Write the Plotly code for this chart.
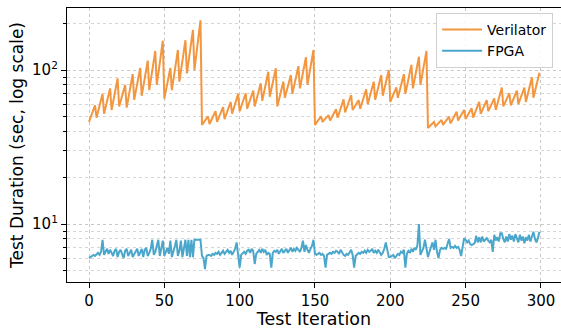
import plotly.graph_objects as go

iterations = list(range(300))

verilator = [
    # 0-74
    46, 49, 52, 55.5, 59,   49, 53.5, 58.5, 64, 70,   52, 57, 63, 69, 76,
    55, 62, 69.5, 78, 88,   58, 63, 68, 74, 80,       57, 64.5, 73, 83, 94,
    64, 72, 81, 91.5, 103,  68, 77.5, 88.5, 100.5, 115,  74, 85.7, 99, 115, 133,
    80, 94.5, 111, 131, 155,  65, 73, 82, 92, 103,    74, 86, 100, 116, 135,
    84, 98, 114.5, 133.5, 156,  95, 112, 131.5, 155, 182,  100, 120, 145, 174, 210,
    # 75-149
    44, 45.5, 47, 48.5, 50,  44.6, 46.8, 49, 51.5, 54,  46, 48.6, 51.4, 54.4, 57.5,
    48, 51, 54.5, 58, 62,    52, 56, 60.3, 65, 70,      54, 57.7, 61.7, 66, 70.6,
    56, 60, 64, 68.6, 73.4,  58, 63.2, 69, 75.2, 82,    63, 70.3, 78.4, 87.4, 97.5,
    67, 74.5, 83, 92, 102.6, 58, 63.6, 69.8, 76.6, 84,  66, 71.9, 78.3, 85.2, 92.8,
    70, 77.6, 86.1, 95.5, 106,  76, 85.4, 95.9, 107.7, 121,  80, 91.2, 103.9, 118.5, 135,
    # 150-224
    44, 45.5, 47, 48.5, 50,  46, 47.2, 48.4, 49.7, 51,  47, 49, 51.1, 53.3, 55.6,
    49, 52.5, 56.2, 60.2, 64.5,  53, 56.6, 60.4, 64.4, 68.8,  55, 57.1, 59.2, 61.5, 63.8,
    56, 60.2, 64.8, 69.7, 75,  60, 65.3, 71, 77.2, 84,  64, 70.2, 77.1, 84.5, 92.8,
    68, 74.9, 82.5, 90.8, 100,  62, 65.5, 69.1, 72.9, 77,  66, 72.1, 78.7, 86.1, 94,
    70, 78, 86.9, 97, 108,  76, 85.6, 96.3, 108.4, 122,  80, 90.9, 103.1, 117.1, 133,
    # 225-299
    42, 43, 44, 45, 46,  43, 44.1, 45.1, 46.3, 47.4,  44, 45.4, 46.8, 48.3, 49.8,
    45, 47, 49.1, 51.3, 53.6,  47, 48.9, 50.8, 52.9, 55,  48, 50, 52, 54.2, 56.4,
    49, 51.9, 55.1, 58.4, 62,  52, 54.7, 57.6, 60.6, 63.8,  54, 56.6, 59.5, 62.4, 65.5,
    55, 59.8, 65.1, 70.8, 77,  58, 60.9, 64, 67.2, 70.6,  59, 62.3, 65.8, 69.5, 73.4,
    60, 63.8, 68, 72.3, 77,  62, 68, 74.5, 81.7, 89.6,  66, 72.5, 79.6, 87.4, 96,
]

fpga = [
    6.0, 6.1, 6.2, 6.3, 6.2, 6.4, 6.5, 6.3, 6.6, 7.9,
    6.3, 6.6, 6.9, 6.4, 6.8, 6.5, 6.2, 6.7, 6.9, 6.1,
    6.6, 6.8, 6.3, 6.0, 6.7, 6.9, 6.2, 6.5, 6.8, 6.1,
    6.4, 6.7, 6.9, 6.2, 6.6, 6.9, 6.1, 6.8, 7.0, 6.2,
    6.5, 6.9, 7.9, 6.3, 6.6, 7.2, 7.9, 6.2, 7.0, 7.8,
    6.2, 6.6, 7.0, 6.4, 7.8, 6.1, 6.8, 7.2, 7.9, 6.2,
    6.7, 7.8, 6.1, 7.0, 7.9, 6.2, 7.9, 6.1, 7.9, 6.1,
    7.9, 7.9, 7.9, 7.9, 7.9, 6.2, 6.0, 5.1, 6.2, 6.3,
    6.3, 6.2, 6.4, 6.3, 6.5, 6.4, 6.6, 6.3, 6.5, 6.7,
    6.4, 6.6, 6.8, 6.5, 6.7, 6.3, 6.6, 6.9, 7.6, 6.2,
    5.2, 6.3, 6.5, 6.6, 6.4, 6.7, 6.8, 6.5, 6.9, 6.7,
    5.5, 6.4, 6.6, 6.8, 6.5, 6.9, 6.6, 6.8, 6.3, 6.5,
    6.4, 5.2, 6.5, 6.7, 6.6, 6.8, 6.4, 6.7, 6.9, 6.5,
    6.7, 6.9, 6.5, 6.8, 7.0, 6.6, 6.9, 6.7, 7.0, 6.8,
    6.6, 7.0, 7.8, 6.6, 7.3, 6.8, 6.5, 6.9, 7.2, 7.9,
    6.4, 6.3, 6.4, 6.5, 6.3, 6.4, 6.2, 5.2, 6.3, 6.4,
    6.5, 6.4, 6.6, 6.5, 6.7, 6.6, 6.4, 6.8, 6.5, 6.3,
    6.2, 6.4, 6.3, 6.6, 6.8, 6.3, 5.2, 6.2, 6.4, 6.5,
    6.4, 6.6, 6.5, 6.7, 6.5, 6.8, 6.6, 6.7, 6.9, 6.5,
    6.7, 6.5, 6.8, 6.6, 6.3, 6.5, 6.9, 7.6, 6.7, 6.1,
    6.1, 6.2, 6.3, 6.0, 6.2, 6.4, 6.3, 6.6, 6.5, 6.8,
    5.2, 6.4, 6.7, 6.5, 6.9, 6.6, 7.0, 6.8, 7.3, 10.0,
    6.3, 6.6, 7.0, 7.9, 6.7, 6.1, 6.6, 7.1, 7.6, 6.8,
    7.9, 6.6, 6.0, 6.8, 7.0, 6.9, 7.0, 6.9, 7.4, 8.0,
    7.0, 7.1, 7.0, 7.2, 7.0, 7.1, 6.8, 6.2, 7.1, 8.1,
    7.9, 7.6, 7.8, 7.4, 7.3, 7.4, 7.5, 8.4, 7.6, 8.2,
    7.6, 8.3, 7.7, 7.9, 8.1, 7.8, 7.6, 7.9, 6.6, 8.5,
    7.8, 8.2, 7.7, 8.7, 8.7, 8.0, 7.6, 8.3, 7.7, 8.6,
    7.9, 8.4, 7.7, 8.6, 8.0, 7.6, 8.5, 7.8, 8.3, 7.5,
    8.2, 7.8, 8.5, 7.7, 8.3, 8.9, 8.0, 7.6, 8.1, 8.9,
]

x_ticks = [0, 50, 100, 150, 200, 250, 300]
y_ticks = [10, 100]
y_tick_labels = ["10<sup>1</sup>", "10<sup>2</sup>"]
y_minor = [5, 6, 7, 8, 9, 20, 30, 40, 50, 60, 70, 80, 90, 200]

ORANGE = "#f39640"
BLUE = "#4aa7cb"
FONT = "DejaVu Sans"

fig = go.Figure()
fig.add_trace(go.Scatter(x=iterations, y=verilator, mode="lines", name="Verilator",
                         line=dict(color=ORANGE, width=2)))
fig.add_trace(go.Scatter(x=iterations, y=fpga, mode="lines", name="FPGA",
                         line=dict(color=BLUE, width=2)))

fig.update_layout(
    width=561, height=329,
    margin=dict(l=67, r=0, t=8, b=47, autoexpand=False),
    paper_bgcolor="white", plot_bgcolor="white",
    font=dict(family=FONT, color="black", size=14),
    showlegend=True,
    legend=dict(x=0.984, y=0.982, xanchor="right", yanchor="top",
                bgcolor="rgba(255,255,255,0.85)", bordercolor="#d0d0d0", borderwidth=1,
                font=dict(size=14, family=FONT), itemwidth=40,
                tracegroupgap=2),
)
fig.update_xaxes(
    range=[-14.6, 313.3], tickvals=x_ticks, automargin=False,
    showline=True, linecolor="black", linewidth=1.3, mirror=True,
    ticks="outside", ticklen=5, tickcolor="black", tickwidth=1,
    tickfont=dict(size=15, family=FONT),
    showgrid=True, gridcolor="#c8c8c8", griddash="dot", gridwidth=1,
    zeroline=False,
    title=dict(text="Test Iteration", font=dict(size=17.5, family=FONT), standoff=2),
)
fig.update_yaxes(
    type="log", range=[0.6234, 2.4026], automargin=False,
    tickvals=y_ticks, ticktext=y_tick_labels,
    showline=True, linecolor="black", linewidth=1.3, mirror=False,
    ticks="outside", ticklen=5, tickcolor="black", tickwidth=1,
    tickfont=dict(size=15, family=FONT),
    showgrid=True, gridcolor="#c8c8c8", griddash="dot", gridwidth=1,
    minor=dict(tickvals=y_minor, ticks="outside", ticklen=3, tickcolor="black",
               showgrid=True, gridcolor="#d6d6d6", griddash="dot", gridwidth=1),
    zeroline=False,
    title=dict(text="Test Duration (sec, log scale)", font=dict(size=17, family=FONT), standoff=4),
)

fig.write_html("out.html", config={"displayModeBar": False},
               post_script="document.body.style.margin='0';document.body.style.overflow='hidden';")
